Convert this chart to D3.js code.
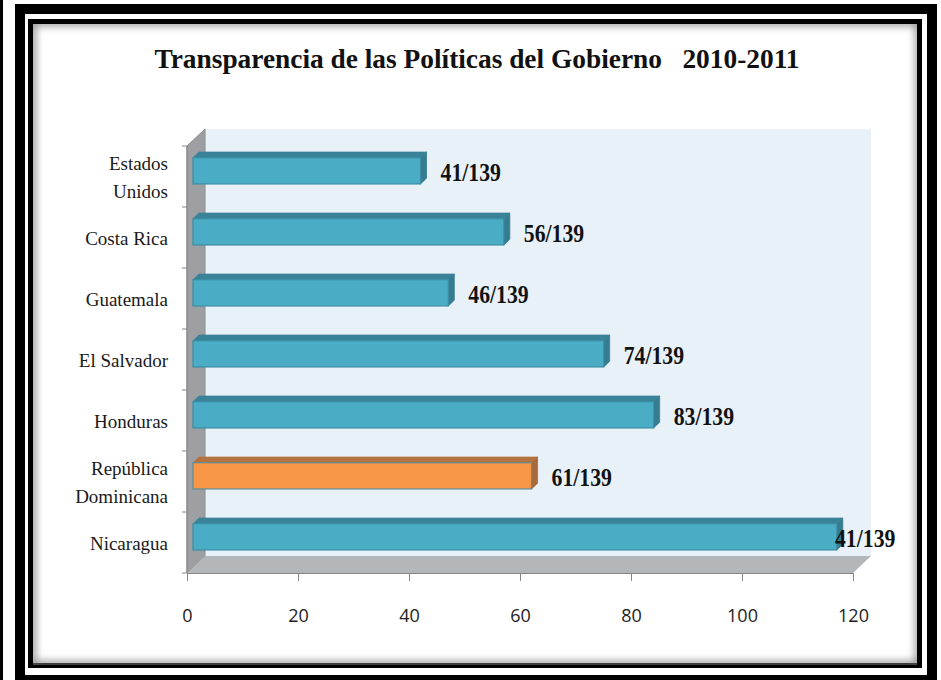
<!DOCTYPE html>
<html>
<head>
<meta charset="utf-8">
<script src="https://cdnjs.cloudflare.com/ajax/libs/d3/7.8.5/d3.min.js"></script>
<style>
    body { margin: 0; background: #fff; }
    svg { display: block; }
    .cat-label { font-family: "Liberation Serif", serif; font-size: 19px; fill: #1a1a1a; }
    .val-label { font-family: "Liberation Serif", serif; font-size: 25px; font-weight: bold; fill: #111; }
    .x-axis text { font-family: "Open Sans", sans-serif; font-size: 18px; fill: #222; }
    .title { font-family: "Liberation Serif", serif; font-weight: bold; fill: #111; }
</style>
</head>
<body>
<div id="chart"></div>
<script>

// data
const countries = ["Estados Unidos", "Costa Rica", "Guatemala", "El Salvador", "Honduras", "República Dominicana", "Nicaragua"];
const values = [41, 56, 46, 74, 83, 61, 116];
const valueLabels = ["41/139", "56/139", "46/139", "74/139", "83/139", "61/139", "41/139"];
const highlight = ["República Dominicana"];
const xTicks = [0, 20, 40, 60, 80, 100, 120];
const chartTitle = "Transparencia de las Políticas del Gobierno   2010-2011";


class BarChart3D {

    constructor(_parentElement) {
        this.parentElement = _parentElement;
        this.initVis();
    }

    initVis() {
        let vis = this;

        vis.width = 941;
        vis.height = 680;

        // front plane of the plot, and the depth of the 3D box
        vis.margin = { top: 146, right: 88, bottom: 107, left: 187 };
        vis.depth = { x: 18, y: -17 };

        vis.svg = d3.select("#" + vis.parentElement).append("svg")
            .attr("width", vis.width)
            .attr("height", vis.height);

        vis.drawFrame();

        vis.x = d3.scaleLinear()
            .domain([0, 120])
            .range([vis.margin.left, vis.width - vis.margin.right]);

        vis.y = d3.scaleBand()
            .domain(countries)
            .range([vis.margin.top, vis.height - vis.margin.bottom])
            .paddingInner(0.57)
            .paddingOuter(0.285);

        vis.wrangleData();
    }

    drawFrame() {
        let vis = this;

        let defs = vis.svg.append("defs");
        defs.append("clipPath").attr("id", "inner-clip")
            .append("rect")
            .attr("x", 33).attr("y", 24)
            .attr("width", 884).attr("height", 641);
        defs.append("filter").attr("id", "soft")
            .attr("x", "-10%").attr("y", "-10%").attr("width", "120%").attr("height", "120%")
            .append("feGaussianBlur").attr("stdDeviation", 4);

        // thin line at the very left
        vis.svg.append("rect")
            .attr("x", 0).attr("y", 0)
            .attr("width", 3).attr("height", vis.height)
            .attr("fill", "#000");

        // outer thick frame
        vis.svg.append("rect")
            .attr("x", 20).attr("y", 9)
            .attr("width", 912).attr("height", 671)
            .attr("fill", "none")
            .attr("stroke", "#000")
            .attr("stroke-width", 10);

        // inner thin frame
        vis.svg.append("rect")
            .attr("x", 30.5).attr("y", 21.5)
            .attr("width", 889).attr("height", 644)
            .attr("fill", "#fff")
            .attr("stroke", "#000")
            .attr("stroke-width", 5);

        // soft inner shadow
        vis.svg.append("g")
            .attr("clip-path", "url(#inner-clip)")
            .append("rect")
            .attr("x", 32).attr("y", 22)
            .attr("width", 887).attr("height", 643)
            .attr("fill", "none")
            .attr("stroke", "#777")
            .attr("stroke-width", 6)
            .attr("filter", "url(#soft)");
    }

    wrangleData() {
        let vis = this;

        vis.displayData = countries.map((c, i) => ({
            country: c,
            value: values[i],
            label: valueLabels[i],
            lines: c.length > 12 ? c.split(" ") : [c],
            highlight: highlight.includes(c)
        }));

        vis.updateVis();
    }

    updateVis() {
        let vis = this;

        let dx = vis.depth.x, dy = vis.depth.y;
        let x0 = vis.x.range()[0], x1 = vis.x.range()[1];
        let yTop = vis.y.range()[0], yBot = vis.y.range()[1];

        // back wall
        vis.svg.append("rect")
            .attr("x", x0 + dx)
            .attr("y", yTop + dy)
            .attr("width", x1 - x0)
            .attr("height", yBot - yTop)
            .attr("fill", "#e9f1f8");

        // left side wall
        vis.svg.append("polygon")
            .attr("points", [[x0, yTop], [x0 + dx, yTop + dy], [x0 + dx, yBot + dy], [x0, yBot]].join(" "))
            .attr("fill", "#9d9fa2")
            .attr("stroke", "#8a8c8f")
            .attr("stroke-width", 1);

        // floor
        vis.svg.append("polygon")
            .attr("points", [[x0, yBot], [x0 + dx, yBot + dy], [x1 + dx, yBot + dy], [x1, yBot]].join(" "))
            .attr("fill", "#b4b7ba");

        // axis lines
        vis.svg.append("line")
            .attr("x1", x0).attr("x2", x0)
            .attr("y1", yTop).attr("y2", yBot)
            .attr("stroke", "#868686");

        // category ticks on the left
        let step = vis.y.step();
        let outer = vis.y.paddingOuter() * step;
        let bounds = d3.range(countries.length + 1).map(i => yTop + outer - step * vis.y.paddingInner() / 2 + i * step);
        vis.svg.selectAll(".y-tick")
            .data(bounds)
            .enter().append("line")
            .attr("class", "y-tick")
            .attr("x1", x0 - 5).attr("x2", x0)
            .attr("y1", d => d).attr("y2", d => d)
            .attr("stroke", "#868686");

        // x axis
        vis.xAxis = d3.axisBottom(vis.x)
            .tickValues(xTicks)
            .tickSize(8)
            .tickPadding(28)
            .tickFormat(d3.format("d"));

        let gx = vis.svg.append("g")
            .attr("class", "x-axis axis")
            .attr("transform", "translate(0," + yBot + ")")
            .call(vis.xAxis);
        gx.select(".domain").attr("stroke", "#868686");
        gx.selectAll(".tick line").attr("stroke", "#868686");

        // bars: sit in the middle third of the depth
        let off = { x: dx / 3, y: dy / 3 };
        let bd = { x: dx / 3, y: dy / 3 };
        let bw = vis.y.bandwidth();

        let bars = vis.svg.selectAll(".bar")
            .data(vis.displayData)
            .enter().append("g")
            .attr("class", "bar");

        bars.each(function(d) {
            let g = d3.select(this);
            let bx0 = vis.x(0) + off.x;
            let bx1 = vis.x(d.value) + off.x;
            let by = vis.y(d.country) + off.y;
            let front = d.highlight ? "#f79646" : "#4bacc6";
            let top = d.highlight ? "#b3723f" : "#3a8297";
            let side = d.highlight ? "#a86a38" : "#357c90";
            let edge = d.highlight ? "#5f8d9a" : "#3a8ea5";

            g.append("polygon")
                .attr("points", [[bx0, by], [bx0 + bd.x, by + bd.y], [bx1 + bd.x, by + bd.y], [bx1, by]].join(" "))
                .attr("fill", top)
                .attr("stroke", top).attr("stroke-width", 0.8);

            g.append("polygon")
                .attr("points", [[bx1, by], [bx1 + bd.x, by + bd.y], [bx1 + bd.x, by + bw + bd.y], [bx1, by + bw]].join(" "))
                .attr("fill", side)
                .attr("stroke", side).attr("stroke-width", 0.8);

            g.append("rect")
                .attr("x", bx0)
                .attr("y", by)
                .attr("width", bx1 - bx0)
                .attr("height", bw)
                .attr("fill", front)
                .attr("stroke", edge)
                .attr("stroke-width", 1.2);
        });

        // value labels, a little condensed like the original font
        let labelMax = x1 - 18;
        vis.svg.selectAll(".val-label")
            .data(vis.displayData)
            .enter().append("text")
            .attr("class", "val-label")
            .attr("transform", d => {
                let lx = Math.min(vis.x(d.value) + off.x + bd.x + 14, labelMax);
                let ly = vis.y(d.country) + off.y + bw / 2 + 2;
                return "translate(" + lx + "," + ly + ") scale(0.87,1.02)";
            })
            .attr("dominant-baseline", "central")
            .text(d => d.label);

        // category labels
        let cats = vis.svg.selectAll(".cat-label")
            .data(vis.displayData)
            .enter().append("text")
            .attr("class", "cat-label")
            .attr("text-anchor", "end")
            .attr("x", x0 - 19)
            .attr("y", d => vis.y(d.country) + bw / 2)
            .attr("dominant-baseline", "central");

        cats.selectAll("tspan")
            .data(d => d.lines.map((l, i) => ({ l: l, dy: (i - (d.lines.length - 1) / 2) * 28 })))
            .enter().append("tspan")
            .attr("x", x0 - 19)
            .attr("dy", (t, i) => i === 0 ? t.dy : 28)
            .text(t => t.l);

        // title
        let title = vis.svg.append("text")
            .attr("class", "title")
            .attr("x", 477)
            .attr("y", 68)
            .attr("text-anchor", "middle")
            .style("white-space", "pre")
            .style("font-size", "30px")
            .text(chartTitle);
        let w = title.node().getComputedTextLength();
        title.style("font-size", (30 * 645 / w) + "px");
    }
}

new BarChart3D("chart");
</script>
</body>
</html>
